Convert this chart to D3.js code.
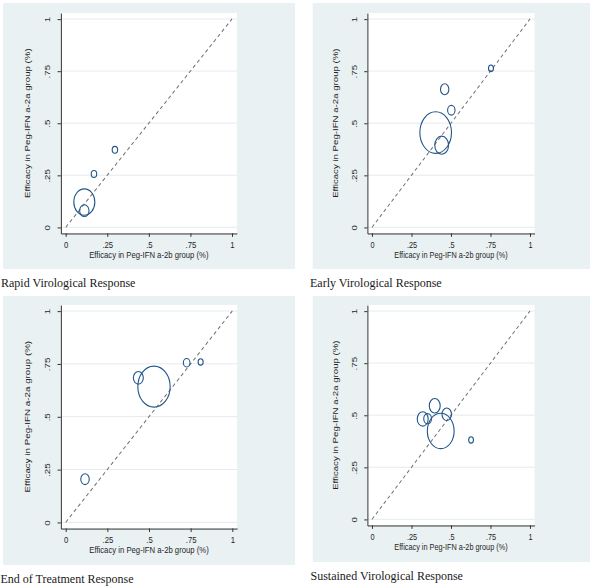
<!DOCTYPE html>
<html>
<head>
<meta charset="utf-8">
<script src="https://cdn.jsdelivr.net/npm/d3@7"></script>
<style>
  html, body { margin: 0; padding: 0; background: #ffffff; }
  svg { display: block; }
</style>
</head>
<body>
<svg id="chart" width="600" height="587"></svg>
<script>
// ---------------- DATA ----------------
const panelTitles = ["Rapid Virological Response", "Early Virological Response",
                     "End of Treatment Response", "Sustained Virological Response"];
const xAxisTitle = "Efficacy in Peg-IFN a-2b group (%)";
const yAxisTitle = "Efficacy in Peg-IFN a-2a group (%)";
const tickValues = [0, 0.25, 0.5, 0.75, 1];
const tickLabels = ["0", ".25", ".5", ".75", "1"];

// Rapid Virological Response
const rvrX = [0.296, 0.170, 0.112, 0.112];
const rvrY = [0.372, 0.256, 0.121, 0.080];
const rvrW = [2.7, 2.7, 40, 8];
// Early Virological Response
const evrX = [0.753, 0.460, 0.502, 0.403, 0.441];
const evrY = [0.763, 0.663, 0.562, 0.455, 0.394];
const evrW = [2.5, 7, 5.5, 100, 19];
// End of Treatment Response
const etrX = [0.116, 0.436, 0.530, 0.726, 0.810];
const etrY = [0.204, 0.684, 0.642, 0.755, 0.759];
const etrW = [6.5, 9, 94, 4, 2.3];
// Sustained Virological Response
const svrX = [0.397, 0.321, 0.352, 0.473, 0.435, 0.627];
const svrY = [0.545, 0.482, 0.483, 0.504, 0.424, 0.381];
const svrW = [12, 12, 6, 9, 72, 2.3];

// ---------------- LAYOUT ----------------
const layout = [
  { bg: [3, 3, 295, 269],       px: [65.7, 232], py: [227.3, 19],  title: [1, 287] },
  { bg: [312.7, 3, 590, 269],   px: [372, 530],  py: [227.3, 19],  title: [310, 287] },
  { bg: [3, 296, 295, 565],     px: [65.7, 232.3], py: [522.3, 311], title: [0.5, 583.3] },
  { bg: [312.7, 296, 590, 562], px: [372, 530],  py: [519.3, 311], title: [310.5, 580] }
];
const series = [
  { x: rvrX, y: rvrY, w: rvrW },
  { x: evrX, y: evrY, w: evrW },
  { x: etrX, y: etrY, w: etrW },
  { x: svrX, y: svrY, w: svrW }
];

const S = 166;            // inner (unstretched) size of the unit square
const pad = 0.029;        // plot-region margin in data units
const bgColor = "#eaf1f3";
const gridColor = "#e4ecee";
const markColor = "#23558a";
const axisColor = "#333333";
const textColor = "#1f1f1f";
const fs = 7.7;

const svg = d3.select("#chart");

const rScale = d3.scaleSqrt().domain([0, 100]).range([0, 0.1]);

layout.forEach((L, i) => {
  const data = series[i].x.map((xv, j) => ({ x: xv, y: series[i].y[j], w: series[i].w[j] }));

  // outer graph region background
  svg.append("rect")
    .attr("x", L.bg[0]).attr("y", L.bg[1])
    .attr("width", L.bg[2] - L.bg[0]).attr("height", L.bg[3] - L.bg[1])
    .attr("fill", bgColor);

  const kx = (L.px[1] - L.px[0]) / S;
  const ky = (L.py[0] - L.py[1]) / S;
  const g = svg.append("g")
    .attr("transform", `translate(${L.px[0]},${L.py[1]}) scale(${kx},${ky})`);

  const x = d3.scaleLinear().domain([0, 1]).range([0, S]);
  const y = d3.scaleLinear().domain([0, 1]).range([S, 0]);
  const xA = d3.scaleLinear().domain([-pad, 1 + pad]).range([x(-pad), x(1 + pad)]);
  const yA = d3.scaleLinear().domain([-pad, 1 + pad]).range([y(-pad), y(1 + pad)]);

  // plot region
  g.append("rect")
    .attr("x", x(-pad)).attr("y", y(1 + pad))
    .attr("width", x(1 + pad) - x(-pad)).attr("height", y(-pad) - y(1 + pad))
    .attr("fill", "#ffffff");

  // grid
  g.append("g").selectAll("line").data(tickValues).join("line")
    .attr("x1", x(-pad)).attr("x2", x(1 + pad))
    .attr("y1", d => y(d)).attr("y2", d => y(d))
    .attr("stroke", gridColor).attr("stroke-width", 1)
    .attr("vector-effect", "non-scaling-stroke");

  // diagonal reference line
  g.append("line")
    .attr("x1", x(0)).attr("y1", y(0)).attr("x2", x(1)).attr("y2", y(1))
    .attr("stroke", "#6e6e6e").attr("stroke-width", 0.9)
    .attr("stroke-dasharray", "3.2,2.6");

  // bubbles
  g.append("g").selectAll("circle").data(data).join("circle")
    .attr("cx", d => x(d.x)).attr("cy", d => y(d.y))
    .attr("r", d => rScale(d.w) * S)
    .attr("fill", "none").attr("stroke", markColor).attr("stroke-width", 1.1)
    .attr("vector-effect", "non-scaling-stroke");

  // y axis
  const yAxis = g.append("g")
    .attr("transform", `translate(${x(-pad)},0)`)
    .call(d3.axisLeft(yA).tickValues(tickValues)
      .tickFormat((d, k) => tickLabels[k]).tickSize(3.3).tickSizeOuter(0));
  yAxis.selectAll("path, line").attr("stroke", axisColor)
    .attr("vector-effect", "non-scaling-stroke");
  yAxis.selectAll("text")
    .attr("x", null).attr("dy", null)
    .attr("transform", "translate(-11.3,0) rotate(-90)")
    .attr("text-anchor", "middle")
    .attr("font-family", "Liberation Sans, Arial, sans-serif")
    .attr("font-size", fs).attr("fill", textColor);

  // x axis
  const xAxis = g.append("g")
    .attr("transform", `translate(0,${y(-pad)})`)
    .call(d3.axisBottom(xA).tickValues(tickValues)
      .tickFormat((d, k) => tickLabels[k]).tickSize(2.8).tickSizeOuter(0));
  xAxis.selectAll("path, line").attr("stroke", axisColor)
    .attr("vector-effect", "non-scaling-stroke");
  xAxis.selectAll("text")
    .attr("y", 11.3).attr("dy", null)
    .attr("font-family", "Liberation Sans, Arial, sans-serif")
    .attr("font-size", fs).attr("fill", textColor);

  // axis titles
  g.append("text")
    .attr("x", x(0.5)).attr("y", y(-pad) + 19.6)
    .attr("text-anchor", "middle")
    .attr("font-family", "Liberation Sans, Arial, sans-serif")
    .attr("font-size", fs).attr("fill", textColor)
    .text(xAxisTitle);
  g.append("text")
    .attr("transform", `translate(${x(-pad) - 30.4},${y(0.5)}) rotate(-90)`)
    .attr("text-anchor", "middle")
    .attr("font-family", "Liberation Sans, Arial, sans-serif")
    .attr("font-size", fs).attr("fill", textColor)
    .text(yAxisTitle);

  // caption
  svg.append("text")
    .attr("x", L.title[0]).attr("y", L.title[1])
    .attr("font-family", "Liberation Serif, 'DejaVu Serif', serif")
    .attr("font-size", 12).attr("fill", "#1a1a1a")
    .text(panelTitles[i]);
});
</script>
</body>
</html>
